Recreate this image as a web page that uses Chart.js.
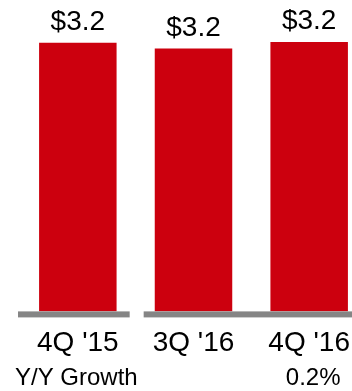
<!DOCTYPE html>
<html>
<head>
<meta charset="utf-8">
<script src="https://cdn.jsdelivr.net/npm/chart.js@4"></script>
<style>
  html, body { margin: 0; padding: 0; background: #fff; overflow: hidden; }
  #wrap { width: 367px; height: 391px; }
</style>
</head>
<body>
<div id="wrap"><canvas id="chart" width="367" height="391"></canvas></div>
<script>
// quarterly revenue, $ billions
const quarters = ["4Q '15", "3Q '16", "4Q '16"];
const revenue = [3.23, 3.16, 3.24];
// year over year growth row, only shown for the latest quarter
const growthTitle = 'Y/Y Growth';
const growth = [null, null, 0.2];

const FONT = '"Liberation Sans", Arial, sans-serif';

// value labels above the bars, baseline strip and growth row
const extras = {
  id: 'extras',
  afterDatasetsDraw(chart) {
    const ctx = chart.ctx;
    const x = chart.scales.x;
    const area = chart.chartArea;
    const meta = chart.getDatasetMeta(0);

    ctx.save();
    // grey baseline, split between the year-ago quarter and the rest
    const mid = (x.getPixelForValue(0) + x.getPixelForValue(1)) / 2;
    ctx.fillStyle = '#858585';
    ctx.fillRect(area.left - 2, area.bottom, mid - 6 - (area.left - 2), 6);
    ctx.fillRect(mid + 8, area.bottom, area.right - mid - 8, 6);

    // $ labels
    ctx.fillStyle = '#000';
    ctx.font = '28px ' + FONT;
    ctx.textAlign = 'center';
    ctx.textBaseline = 'alphabetic';
    meta.data.forEach((bar, i) => {
      ctx.fillText('$' + revenue[i].toFixed(1), bar.x, bar.y - 13);
    });

    // growth row
    ctx.font = '24px ' + FONT;
    ctx.textBaseline = 'middle';
    ctx.textAlign = 'left';
    ctx.fillText(growthTitle, 15, 378);
    ctx.textAlign = 'center';
    growth.forEach((g, i) => {
      if (g !== null) ctx.fillText(g.toFixed(1) + '%', x.getPixelForValue(i) + 4, 378);
    });
    ctx.restore();
  }
};

new Chart(document.getElementById('chart'), {
  type: 'bar',
  data: {
    labels: quarters,
    datasets: [{
      data: revenue,
      backgroundColor: '#cc000e',
      borderWidth: 0,
      categoryPercentage: 1,
      barPercentage: 0.67
    }]
  },
  options: {
    responsive: false,
    animation: false,
    layout: { padding: { left: 20, right: 0, top: 12, bottom: 24 } },
    plugins: { legend: { display: false }, tooltip: { enabled: false } },
    scales: {
      x: {
        grid: { display: false },
        border: { display: false },
        ticks: {
          color: '#000',
          font: { family: FONT, size: 28 },
          padding: 7,
          maxRotation: 0
        }
      },
      y: {
        display: false,
        min: 0,
        max: 3.6
      }
    }
  },
  plugins: [extras]
});
</script>
</body>
</html>
